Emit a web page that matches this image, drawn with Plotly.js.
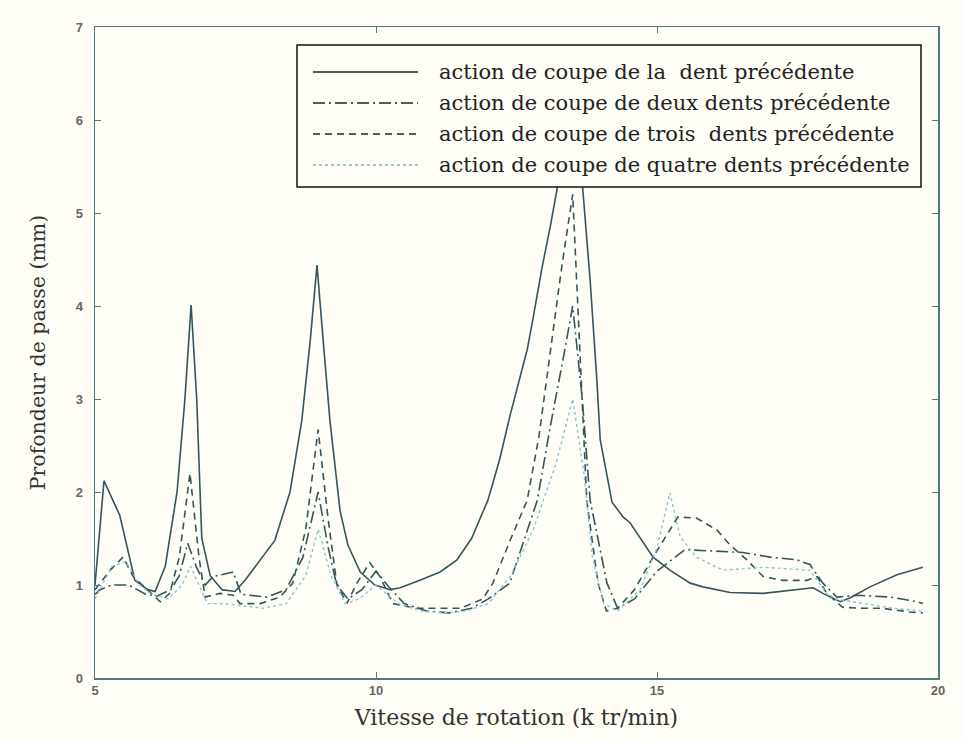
<!DOCTYPE html>
<html>
<head>
<meta charset="utf-8">
<script src="https://cdn.plot.ly/plotly-3.0.1.min.js"></script>
<style>html,body{margin:0;padding:0;background:#fffef6;}#chart{width:963px;height:742px;}</style>
</head>
<body>
<div id="chart"></div>
<script>
// Series names (legend)
const names = [
  "action de coupe de la  dent précédente",
  "action de coupe de deux dents précédente",
  "action de coupe de trois  dents précédente",
  "action de coupe de quatre dents précédente"
];

// Series 1: la dent précédente (solid)
const x1 = [5.0, 5.16, 5.44, 5.71, 5.94, 6.07, 6.25, 6.46, 6.6, 6.71, 6.81, 6.9, 7.05, 7.26, 7.49, 7.67, 7.94, 8.2, 8.47, 8.68, 8.83, 8.95, 9.06, 9.18, 9.36, 9.5, 9.72, 9.98, 10.25, 10.43, 10.78, 11.14, 11.44, 11.7, 11.99, 12.2, 12.38, 12.55, 12.69, 12.79, 12.95, 13.1, 13.22, 13.35, 13.5, 13.62, 13.68, 13.81, 13.86, 13.93, 13.99, 14.2, 14.4, 14.52, 14.93, 15.23, 15.59, 15.82, 16.3, 16.89, 17.78, 17.95, 18.26, 18.43, 18.79, 19.27, 19.73];
const y1 = [1.0, 2.12, 1.75, 1.05, 0.95, 0.93, 1.2, 2.0, 3.0, 4.01, 3.0, 1.5, 1.1, 0.95, 0.93, 1.05, 1.27, 1.48, 2.0, 2.77, 3.63, 4.44, 3.63, 2.77, 1.8, 1.43, 1.14, 1.0, 0.95, 0.97, 1.05, 1.14, 1.27, 1.5, 1.91, 2.35, 2.81, 3.2, 3.53, 3.85, 4.4, 4.85, 5.25, 5.8, 6.3, 5.8, 5.25, 4.28, 3.85, 3.2, 2.56, 1.89, 1.73, 1.67, 1.3, 1.16, 1.02, 0.98, 0.92, 0.91, 0.97, 0.91, 0.82, 0.86, 0.98, 1.11, 1.19];

// Series 2: deux dents (dash-dot)
const x2 = [5.0, 5.09, 5.3, 5.6, 5.9, 6.1, 6.35, 6.5, 6.65, 6.8, 6.96, 7.1, 7.46, 7.6, 8.06, 8.4, 8.7, 8.97, 9.15, 9.3, 9.5, 9.75, 10.0, 10.2, 10.5, 10.9, 11.3, 11.7, 12.0, 12.38, 12.87, 13.1, 13.36, 13.5, 13.67, 13.81, 14.11, 14.3, 14.6, 15.0, 15.5, 16.07, 16.53, 17.01, 17.49, 17.72, 17.95, 18.2, 18.56, 19.15, 19.63, 19.73];
const y2 = [0.9, 0.95, 1.0, 1.0, 0.9, 0.88, 0.95, 1.1, 1.45, 1.2, 1.0, 1.09, 1.14, 0.9, 0.87, 0.95, 1.3, 2.0, 1.4, 1.0, 0.85, 0.95, 1.15, 1.0, 0.8, 0.72, 0.7, 0.75, 0.85, 1.02, 1.91, 2.7, 3.53, 4.0, 3.0, 1.91, 1.02, 0.75, 0.85, 1.15, 1.38, 1.36, 1.35, 1.3, 1.27, 1.22, 1.02, 0.87, 0.89, 0.87, 0.82, 0.8];

// Series 3: trois dents (dashed)
const x3 = [5.0, 5.27, 5.5, 5.68, 5.93, 6.16, 6.33, 6.5, 6.69, 6.85, 6.96, 7.22, 7.46, 7.58, 7.94, 8.29, 8.52, 8.75, 8.97, 9.15, 9.3, 9.48, 9.66, 9.89, 10.07, 10.3, 10.7, 11.1, 11.5, 11.9, 12.08, 12.4, 12.69, 12.9, 13.1, 13.3, 13.5, 13.62, 13.75, 13.95, 14.1, 14.3, 14.6, 14.93, 15.37, 15.7, 16.07, 16.3, 16.6, 16.89, 17.24, 17.67, 17.85, 18.02, 18.3, 18.66, 19.0, 19.5, 19.73];
const y3 = [0.95, 1.16, 1.3, 1.09, 0.95, 0.82, 0.91, 1.3, 2.2, 1.3, 0.87, 0.91, 0.89, 0.8, 0.8, 0.87, 1.02, 1.6, 2.67, 1.7, 1.02, 0.8, 1.02, 1.24, 1.09, 0.8, 0.75, 0.75, 0.75, 0.85, 1.02, 1.5, 1.91, 2.6, 3.53, 4.4, 5.2, 3.6, 1.91, 1.02, 0.72, 0.75, 0.95, 1.3, 1.73, 1.72, 1.59, 1.43, 1.27, 1.09, 1.05, 1.05, 1.09, 0.91, 0.76, 0.75, 0.75, 0.71, 0.7];

// Series 4: quatre dents (dotted)
const x4 = [5.0, 5.3, 5.55, 5.8, 6.0, 6.3, 6.55, 6.7, 6.85, 7.0, 7.3, 7.6, 8.0, 8.4, 8.75, 8.97, 9.2, 9.45, 9.7, 10.0, 10.4, 10.8, 11.2, 11.6, 12.0, 12.4, 12.8, 13.2, 13.5, 13.7, 13.85, 14.05, 14.3, 14.7, 15.0, 15.23, 15.41, 15.7, 16.17, 16.9, 17.72, 18.08, 18.66, 19.2, 19.73];
const y4 = [0.85, 1.2, 1.25, 1.0, 0.9, 0.85, 1.0, 1.2, 1.0, 0.8, 0.8, 0.78, 0.75, 0.8, 1.1, 1.6, 1.1, 0.8, 0.85, 1.0, 0.8, 0.72, 0.7, 0.72, 0.8, 1.1, 1.6, 2.3, 3.0, 2.2, 1.3, 0.8, 0.72, 0.95, 1.4, 1.99, 1.52, 1.3, 1.16, 1.19, 1.16, 0.86, 0.8, 0.75, 0.72];

// Axis ticks
const xTicks = [5, 10, 15, 20];
const yTicks = [0, 1, 2, 3, 4, 5, 6, 7];

const lineCol = '#35555e';
const styles = [
  {color: lineCol, width: 1.6, dash: 'solid'},
  {color: lineCol, width: 1.6, dash: '12px,4px,2px,4px'},
  {color: lineCol, width: 1.6, dash: '7px,5px'},
  {color: '#8cc3d6', width: 1.4, dash: 'dot'}
];
const xs = [x1, x2, x3, x4], ys = [y1, y2, y3, y4];
const traces = xs.map((x, i) => ({x: x, y: ys[i], name: names[i], mode: 'lines', line: styles[i]}));

// Plot area geometry (pixels) for the hand-made legend box
const W = 963, H = 742, M = {l: 95, r: 25, t: 27, b: 64};
const pw = W - M.l - M.r, ph = H - M.t - M.b;
const px = v => (v - M.l) / pw;          // pixel x -> paper x
const py = v => (H - M.b - v) / ph;       // pixel y -> paper y

const shapes = [{
  type: 'rect', xref: 'paper', yref: 'paper', layer: 'above',
  x0: px(297), x1: px(921), y0: py(187), y1: py(45),
  fillcolor: '#fffef6', line: {color: '#111', width: 1.5}
}];
const annotations = [];
const rowY = [72, 103, 134, 165];
names.forEach((n, i) => {
  shapes.push({type: 'line', xref: 'paper', yref: 'paper', layer: 'above',
    x0: px(313), x1: px(418), y0: py(rowY[i]), y1: py(rowY[i]),
    line: {color: styles[i].color === lineCol ? '#222' : '#7fb4c8', width: styles[i].width, dash: styles[i].dash}});
  annotations.push({xref: 'paper', yref: 'paper', x: px(437), y: py(rowY[i]),
    xanchor: 'left', yanchor: 'middle', showarrow: false, text: n,
    font: {family: 'DejaVu Serif, serif', size: 21, color: '#222'}});
});

const axisCol = '#4f7882';
const tickFont = {family: 'Liberation Sans, Arial, sans-serif', size: 13, color: '#666', weight: 'bold'};
const layout = {
  width: W, height: H,
  paper_bgcolor: '#fffef6', plot_bgcolor: '#fffef6',
  margin: M,
  showlegend: false,
  shapes: shapes,
  annotations: annotations,
  xaxis: {
    range: [5, 20], tickvals: xTicks, ticktext: xTicks.map(String),
    showgrid: false, zeroline: false, showline: true, mirror: 'ticks',
    linecolor: axisCol, linewidth: 1.5, ticks: 'inside', ticklen: 6, tickcolor: axisCol,
    tickfont: tickFont,
    title: {text: 'Vitesse de rotation (k tr/min)', standoff: 12,
      font: {family: 'DejaVu Serif, serif', size: 22, color: '#333'}}
  },
  yaxis: {
    range: [0, 7], tickvals: yTicks, ticktext: yTicks.map(String),
    showgrid: false, zeroline: false, showline: true, mirror: 'ticks',
    linecolor: axisCol, linewidth: 1.5, ticks: 'inside', ticklen: 6, tickcolor: axisCol,
    tickfont: tickFont, ticklabelstandoff: 8,
    title: {text: 'Profondeur de passe (mm)', standoff: 24,
      font: {family: 'DejaVu Serif, serif', size: 20.5, color: '#333'}}
  }
};

Plotly.newPlot('chart', traces, layout, {displayModeBar: false, staticPlot: true});
</script>
</body>
</html>
